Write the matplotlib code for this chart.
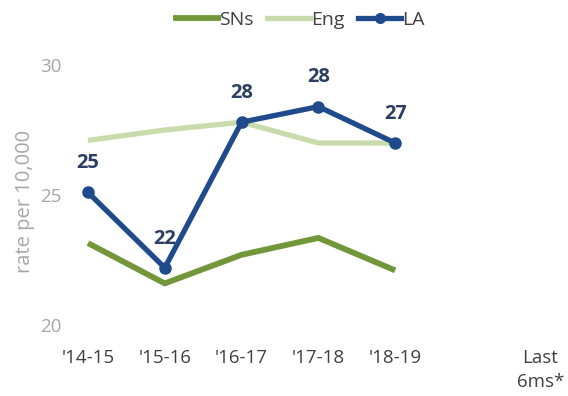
import matplotlib
matplotlib.use("Agg")
import matplotlib.pyplot as plt
from matplotlib.lines import Line2D
from matplotlib.transforms import ScaledTranslation

plt.rcParams['font.family'] = ['Open Sans', 'DejaVu Sans']

# Academic years plus a gap and the latest part-year
categories = ["'14-15", "'15-16", "'16-17", "'17-18", "'18-19", "", "Last\n6ms*"]
years = [0, 1, 2, 3, 4]

sns_rate = [23.15, 21.6, 22.7, 23.35, 22.1]
eng_rate = [27.1, 27.5, 27.8, 27.0, 27.0]
la_rate = [25.1, 22.2, 27.8, 28.4, 27.0]

C_SNS = '#72973b'
C_ENG = '#c9dbab'
C_LA = '#1f4a8b'
C_LABEL = '#2c3f62'

W, H = 568, 396
fig = plt.figure(figsize=(W / 100, H / 100), dpi=100)
ax = fig.add_axes([70 / W, 71 / H, (W - 70) / W, 260 / H])

ax.plot(years, eng_rate, color=C_ENG, lw=3.8, solid_capstyle='butt', zorder=2)
ax.plot(years, sns_rate, color=C_SNS, lw=4.2, solid_capstyle='butt', zorder=3)
ax.plot(years, la_rate, color=C_LA, lw=3.8, marker='o', markersize=8,
        solid_capstyle='butt', zorder=4)

for x, v in zip(years, la_rate):
    ax.annotate(f"{v:.0f}", (x, v), xytext=(0, 21), textcoords='offset points',
                ha='center', va='center', fontsize=14.5, fontweight='bold',
                color=C_LABEL, zorder=1)

ax.set_xlim(-0.234, 6.25)
ax.set_ylim(20, 30)
ax.set_yticks([20, 25, 30])
ax.set_xticks(range(len(categories)))
ax.set_xticklabels(categories, linespacing=1.45)
ax.tick_params(axis='x', length=0, pad=17, labelsize=13.5, labelcolor='#404040')
ax.tick_params(axis='y', length=0, pad=6, labelsize=13.5, labelcolor='#a6a6a6')
for s in ax.spines.values():
    s.set_visible(False)

# keep the part-year label inside the right edge
last = ax.get_xticklabels()[-1]
last.set_transform(last.get_transform() + ScaledTranslation(-6 / 72, 0, fig.dpi_scale_trans))

fig.text(25 / W, 1 - 201 / H, 'rate per 10,000', rotation=90, ha='center',
         va='center', fontsize=14.5, color='#a6a6a6')

handles = [
    Line2D([], [], color=C_SNS, lw=4.2),
    Line2D([], [], color=C_ENG, lw=3.8),
    Line2D([], [], color=C_LA, lw=3.8, marker='o', markersize=7),
]
fig.legend(handles, ['SNs', 'Eng', 'LA'], loc='center',
           bbox_to_anchor=(300 / W, 1 - 20 / H), ncol=3, frameon=False,
           fontsize=14, handlelength=2.2, handletextpad=0.05,
           columnspacing=0.7, labelcolor='#404040')

fig.savefig('out.png', dpi=100)
